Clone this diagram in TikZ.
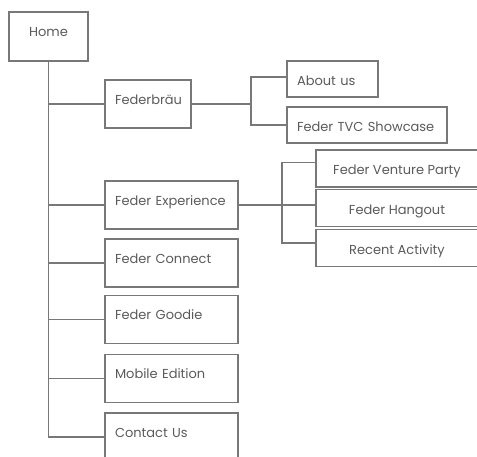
\documentclass[tikz,border=0pt]{standalone}
\usepackage{fontspec}
\setmainfont{Poppins}
\usetikzlibrary{positioning}

\definecolor{linegray}{RGB}{120,120,120}
\definecolor{textgray}{RGB}{90,90,90}

\tikzset{
    box/.style={draw=linegray, line width=1.4pt, text=textgray, inner sep=0pt,
        font=\fontsize{13}{15}\selectfont},
    menu/.style={box, text width=#1, align=left, inner xsep=10pt,
        text height=10pt, text depth=10pt, minimum height=48pt},
    sub/.style={box, text width=#1, align=left, inner xsep=10pt,
        text height=13pt, text depth=1pt, minimum height=36pt},
    subc/.style={box, minimum width=162pt, minimum height=37pt,
        text height=13pt, text depth=1pt},
    link/.style={draw=linegray, line width=1.4pt}
}

\begin{document}
\begin{tikzpicture}[x=1pt, y=-1pt]
    \clip (0,0) rectangle (477,456);
    % home and first level
    \node[box, minimum width=79pt, minimum height=49pt, text height=10pt, text depth=10pt] (home) at (48.5,36.5) {Home};
    \node[menu=66pt] (fbrau) at (148,104) {Federbräu};
    \node[menu=113pt] (fexp) at (171.5,205) {Feder Experience};
    \node[menu=113pt] (fconn) at (171.5,263) {Feder Connect};
    \node[menu=113pt] (fgood) at (171.5,319.5) {Feder Goodie};
    \node[menu=113pt] (fmob) at (171.5,378.5) {Mobile Edition};
    \node[menu=113pt] (fcont) at (171.5,437) {Contact Us};
    % second level
    \node[sub=71pt] (about) at (332.5,79) {About us};
    \node[sub=140pt] (tvc) at (367,125) {Feder TVC Showcase};
    \node[subc] (party) at (397,168.5) {Feder Venture Party};
    \node[subc] (hang) at (397,208) {Feder Hangout};
    \node[subc] (recent) at (397,248) {Recent Activity};
    % tree lines
    \draw[link] (home.south) |- (fcont.west);
    \foreach \n in {fbrau,fexp,fconn,fgood,fmob} {
        \draw[link] (home.south |- \n.west) -- (\n.west);
    }
    \coordinate (bsplit) at (251,104);
    \draw[link] (fbrau.east) -- (bsplit);
    \draw[link] ([yshift=2pt]about.west) -| (bsplit) |- (tvc.west);
    \coordinate (esplit) at (282,205);
    \draw[link] (fexp.east) -- (fexp.east -| hang.west);
    \draw[link] ([yshift=6pt]party.west) -| (esplit) |- ([yshift=5pt]recent.west);
\end{tikzpicture}
\end{document}
